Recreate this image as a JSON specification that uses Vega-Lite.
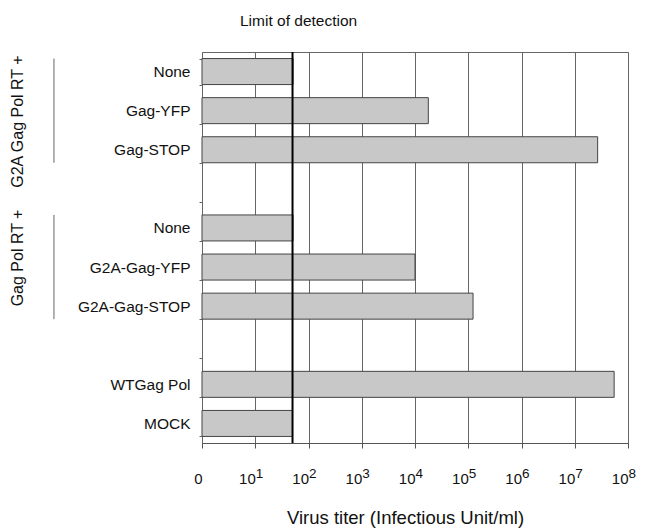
{
  "$schema": "https://vega.github.io/schema/vega-lite/v6.json",
  "width": 426,
  "height": 391,
  "autosize": {"type": "none"},
  "padding": {"left": 202, "top": 52, "right": 19, "bottom": 86},
  "background": "white",
  "config": {
    "font": "Liberation Sans",
    "view": {"stroke": "#666", "strokeWidth": 1}
  },
  "title": {
    "text": "Limit of detection",
    "anchor": "start",
    "frame": "group",
    "dx": 38,
    "fontSize": 15.5,
    "fontWeight": "normal",
    "font": "Liberation Sans",
    "color": "#111",
    "baseline": "alphabetic",
    "offset": 4
  },
  "datasets": {
    "titers": [
      {"cat": "None|1", "log10_titer": 1.71},
      {"cat": "Gag-YFP|1", "log10_titer": 4.25},
      {"cat": "Gag-STOP|1", "log10_titer": 7.43},
      {"cat": "None|2", "log10_titer": 1.71},
      {"cat": "G2A-Gag-YFP|2", "log10_titer": 4.0},
      {"cat": "G2A-Gag-STOP|2", "log10_titer": 5.09},
      {"cat": "WTGag Pol|3", "log10_titer": 7.74},
      {"cat": "MOCK|3", "log10_titer": 1.7}
    ],
    "limit": [{"limit": 1.7}],
    "groups": [
      {"group": "G2A Gag Pol RT +", "start": "None|1", "end": "Gag-STOP|1", "mid": "Gag-YFP|1"},
      {"group": "Gag Pol RT +", "start": "None|2", "end": "G2A-Gag-STOP|2", "mid": "G2A-Gag-YFP|2"}
    ]
  },
  "layer": [
    {
      "data": {"name": "titers"},
      "mark": {"type": "bar", "fill": "#c8c8c8", "stroke": "#444", "strokeWidth": 1},
      "encoding": {
        "y": {
          "field": "cat",
          "type": "nominal",
          "scale": {
            "domain": ["None|1", "Gag-YFP|1", "Gag-STOP|1", "|a", "None|2", "G2A-Gag-YFP|2", "G2A-Gag-STOP|2", "|b", "WTGag Pol|3", "MOCK|3"],
            "paddingInner": 0.335,
            "paddingOuter": 0.1675
          },
          "axis": {
            "title": null,
            "labelExpr": "datum.value ? split(datum.value, '|')[0] : ''",
            "labelFontSize": 15.5,
            "labelColor": "#111",
            "labelPadding": 9,
            "tickBand": "extent",
            "tickSize": 3,
            "tickColor": "#666",
            "domain": false
          }
        },
        "x": {
          "field": "log10_titer",
          "type": "quantitative",
          "scale": {"domain": [0, 8], "nice": false},
          "axis": {
            "title": "Virus titer (Infectious Unit/ml)",
            "titleFontSize": 18.5,
            "titleFontWeight": "normal",
            "titleColor": "#111",
            "titlePadding": 22,
            "titleX": 203,
            "values": [0, 1, 2, 3, 4, 5, 6, 7, 8],
            "labelExpr": "datum.value == 0 ? '0' : '10'",
            "labelAlign": "right",
            "labelDx": -4,
            "labelFontSize": 15,
            "labelColor": "#111",
            "labelPadding": 23,
            "tickSize": 5,
            "tickColor": "#555",
            "domainColor": "#555",
            "grid": true,
            "gridColor": "#666",
            "gridOpacity": 1
          }
        }
      }
    },
    {
      "data": {"name": "limit"},
      "mark": {"type": "rule", "color": "black", "strokeWidth": 2},
      "encoding": {
        "x": {
          "field": "limit",
          "type": "quantitative",
          "axis": {
            "orient": "bottom",
            "title": null,
            "values": [0, 1, 2, 3, 4, 5, 6, 7, 8],
            "labelExpr": "datum.value == 0 ? '' : '' + datum.value",
            "labelAlign": "left",
            "labelDx": 2,
            "labelFontSize": 13.5,
            "labelColor": "#111",
            "labelPadding": 23,
            "ticks": false,
            "domain": false,
            "grid": false
          }
        }
      }
    },
    {
      "data": {"name": "groups"},
      "mark": {"type": "rule", "color": "#666", "strokeWidth": 1},
      "encoding": {
        "x": {"datum": -2.78, "type": "quantitative", "axis": null},
        "y": {"field": "start", "type": "nominal", "bandPosition": 0},
        "y2": {"field": "end", "bandPosition": 1}
      }
    },
    {
      "data": {"name": "groups"},
      "transform": [{"filter": "datum.group == 'G2A Gag Pol RT +'"}],
      "mark": {"type": "text", "angle": 270, "fontSize": 16, "color": "#111", "align": "center", "baseline": "middle"},
      "encoding": {
        "x": {"datum": -3.45, "type": "quantitative", "axis": null},
        "y": {"field": "mid", "type": "nominal", "bandPosition": 0.92},
        "text": {"field": "group"}
      }
    },
    {
      "data": {"name": "groups"},
      "transform": [{"filter": "datum.group == 'Gag Pol RT +'"}],
      "mark": {"type": "text", "angle": 270, "fontSize": 16, "color": "#111", "align": "center", "baseline": "middle"},
      "encoding": {
        "x": {"datum": -3.45, "type": "quantitative", "axis": null},
        "y": {"field": "mid", "type": "nominal", "bandPosition": 0.15},
        "text": {"field": "group"}
      }
    }
  ],
  "resolve": {"axis": {"x": "independent"}}
}
